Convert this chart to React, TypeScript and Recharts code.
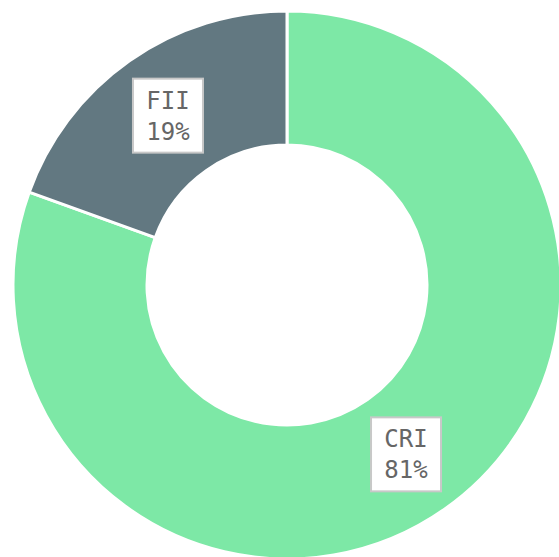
import React from 'react';
import { PieChart, Pie, Cell } from 'recharts';

const categories = ['CRI', 'FII'];
const values = [80.5, 19.5];
const percentLabels = ['81%', '19%'];
const colors = ['#7DE8A6', '#627881'];

const data = categories.map((name, i) => ({ name, value: values[i], pct: percentLabels[i] }));

const RADIAN = Math.PI / 180;
const FONT = "'DejaVu Sans Mono', monospace";

const renderLabel = (props: any) => {
  const { cx, cy, midAngle, innerRadius, outerRadius, name, payload } = props;
  const r = (innerRadius + outerRadius) / 2;
  const x = cx + r * Math.cos(-midAngle * RADIAN);
  const y = cy + r * Math.sin(-midAngle * RADIAN);
  const w = 70;
  const h = 74;
  const pct = payload?.pct ?? props.pct;
  return (
    <g>
      <rect x={x - w / 2} y={y - h / 2} width={w} height={h} fill="#ffffff" stroke="#c8c8c8" strokeWidth={2} />
      <text x={x} y={y - 15} textAnchor="middle" dominantBaseline="central" fill="#666666" fontSize={24} fontFamily={FONT}>
        {name}
      </text>
      <text x={x} y={y + 16} textAnchor="middle" dominantBaseline="central" fill="#666666" fontSize={24} fontFamily={FONT}>
        {pct}
      </text>
    </g>
  );
};

export default function App() {
  return (
    <div style={{ position: 'absolute', left: 0, top: 0, width: 559, height: 557 }}>
      <PieChart width={559} height={557} margin={{ top: 0, right: 0, bottom: 0, left: 0 }}>
        <Pie
          data={data}
          dataKey="value"
          nameKey="name"
          cx={287}
          cy={285}
          innerRadius={140}
          outerRadius={274}
          startAngle={90}
          endAngle={-270}
          stroke="#ffffff"
          strokeWidth={3}
          label={renderLabel}
          labelLine={false}
          isAnimationActive={false}
        >
          {data.map((d, i) => (
            <Cell key={d.name} fill={colors[i]} />
          ))}
        </Pie>
      </PieChart>
    </div>
  );
}
